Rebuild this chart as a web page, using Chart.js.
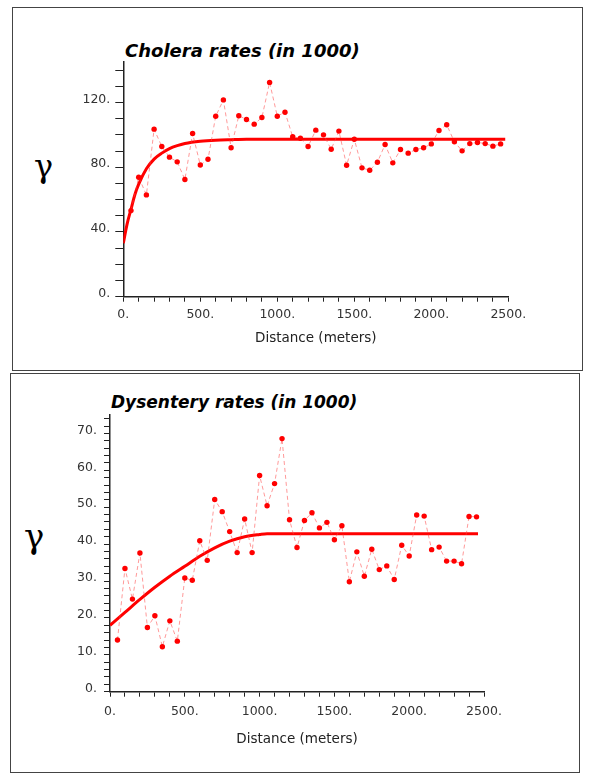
<!DOCTYPE html>
<html>
<head>
<meta charset="utf-8">
<script src="https://cdn.jsdelivr.net/npm/chart.js@4.4.1/dist/chart.umd.min.js"></script>
<style>
  html, body { margin: 0; padding: 0; background: #fff; }
  body { width: 600px; height: 776px; position: relative; overflow: hidden; }
  .panel { position: absolute; border: 1.5px solid #444; box-sizing: border-box; }
  .title { position: absolute; font-family: "DejaVu Sans"; font-weight: bold; font-style: italic; line-height: 1; white-space: nowrap; color: #000; }
  .gamma { position: absolute; font-family: "DejaVu Serif"; line-height: 1; color: #000; }
  canvas { position: absolute; left: 0; }
</style>
</head>
<body>
<div class="panel" style="left:12px;top:7px;width:571px;height:364px"></div>
<div class="panel" style="left:10px;top:373px;width:570px;height:400px"></div>

<div class="title" style="left:125px;top:42px;font-size:18px">Cholera rates (in 1000)</div>
<div class="title" style="left:111px;top:394px;font-size:17px">Dysentery rates (in 1000)</div>
<div class="gamma" style="left:34px;top:150px;font-size:32px">γ</div>
<div class="gamma" style="left:24px;top:519px;font-size:34px">γ</div>

<canvas id="cholera" width="600" height="370" style="top:0"></canvas>
<canvas id="dysentery" width="600" height="399" style="top:373px"></canvas>

<script>
// distances (lag centres, metres) - same for both variograms
const lags = [50, 100, 150, 200, 250, 300, 350, 400, 450, 500,
  550, 600, 650, 700, 750, 800, 850, 900, 950, 1000,
  1050, 1100, 1150, 1200, 1250, 1300, 1350, 1400, 1450, 1500,
  1550, 1600, 1650, 1700, 1750, 1800, 1850, 1900, 1950, 2000,
  2050, 2100, 2150, 2200, 2250, 2300, 2350, 2400, 2450];

// empirical semivariance, cholera
const choleraGamma = [53.2, 73.8, 62.9, 103.5, 92.8, 86.2, 83.3, 72.4, 100.8, 81.4,
  84.9, 111.5, 121.6, 92.0, 111.8, 109.5, 106.6, 110.7, 132.4, 111.5,
  114.0, 98.8, 97.9, 92.8, 102.9, 100.0, 91.1, 102.3, 81.2, 97.3,
  79.6, 78.1, 83.1, 94.0, 82.7, 90.9, 88.7, 90.9, 92.0, 94.4,
  102.7, 106.2, 95.7, 90.1, 94.6, 95.3, 94.6, 93.0, 94.4];

// fitted model, cholera
const choleraModelX = [0, 25, 50, 75, 100, 150, 200, 250, 300, 350, 400, 500, 600, 700, 800, 2480];
const choleraModelY = [33, 45, 54, 63, 69.5, 79, 85, 88.7, 91.5, 93.3, 94.6, 96, 96.7, 97, 97.2, 97.2];

// empirical semivariance, dysentery
const dysenteryGamma = [14.0, 33.4, 25.1, 37.6, 17.4, 20.6, 12.2, 19.2, 13.7, 30.8,
  30.2, 40.9, 35.6, 52.1, 48.8, 43.4, 37.7, 46.8, 37.7, 58.6,
  50.4, 56.4, 68.6, 46.6, 39.1, 46.4, 48.5, 44.4, 45.9, 41.2,
  45.0, 29.8, 37.9, 31.3, 38.6, 33.1, 34.1, 30.4, 39.7, 36.8,
  47.9, 47.6, 38.5, 39.2, 35.4, 35.4, 34.7, 47.5, 47.4];

// fitted model, dysentery
const dysenteryModelX = [0, 100, 200, 300, 400, 500, 600, 700, 800, 900, 1000, 1050, 2460];
const dysenteryModelY = [18, 21.5, 25, 28.3, 31.3, 34, 36.7, 39, 40.8, 42, 42.6, 42.8, 42.8];

const xTicks = { min: 0, max: 2500, step: 100, labelEvery: 500 };

function pts(xs, ys) {
  return xs.map((x, i) => ({ x: x, y: ys[i] }));
}

function drawVariogram(id, gamma, modelX, modelY, o) {
  new Chart(document.getElementById(id), {
    type: 'line',
    data: {
      datasets: [
        {
          data: pts(lags, gamma),
          borderColor: 'rgba(255, 70, 70, 0.55)',
          borderWidth: 1,
          borderDash: [4, 3],
          pointRadius: 2.7,
          pointBackgroundColor: '#ff0000',
          pointBorderWidth: 0,
          order: 0
        },
        {
          data: pts(modelX, modelY),
          borderColor: '#ff0000',
          borderWidth: 3,
          pointRadius: 0,
          cubicInterpolationMode: 'monotone',
          order: 1
        }
      ]
    },
    options: {
      responsive: false,
      animation: false,
      layout: { padding: { left: 0, right: o.padRight, top: o.padTop, bottom: 0 } },
      plugins: { legend: { display: false }, tooltip: { enabled: false } },
      scales: {
        x: {
          type: 'linear',
          min: xTicks.min,
          max: xTicks.max,
          afterFit: s => { s.height = o.xHeight; },
          border: { color: '#222', width: 1.5 },
          grid: { drawOnChartArea: false, drawTicks: true, tickLength: 5, tickColor: '#222' },
          ticks: {
            stepSize: xTicks.step,
            autoSkip: false,
            maxRotation: 0,
            padding: o.xPad,
            color: '#333',
            font: { family: 'DejaVu Sans', size: 12.5 },
            callback: v => (v % xTicks.labelEvery === 0 ? v + '.' : '')
          },
          title: {
            display: true,
            text: 'Distance (meters)',
            color: '#222',
            font: { family: 'DejaVu Sans', size: 13.5 },
            padding: { top: 0, bottom: o.titlePad }
          }
        },
        y: {
          min: 0,
          max: o.yMax,
          afterFit: s => { s.width = o.yWidth; },
          border: { color: '#222', width: 1.5 },
          grid: { drawOnChartArea: false, drawTicks: true, tickLength: o.yTickLen, tickColor: '#222' },
          ticks: {
            stepSize: o.yStep,
            includeBounds: false,
            autoSkip: false,
            padding: o.yPad,
            labelOffset: -3,
            color: '#333',
            font: { family: 'DejaVu Sans', size: 12.5 },
            callback: v => (v % o.yLabelEvery === 0 ? v + '.' : '')
          }
        }
      }
    }
  });
}

drawVariogram('cholera', choleraGamma, choleraModelX, choleraModelY, {
  yMax: 145, yStep: 10, yLabelEvery: 40,
  yWidth: 123.3, padRight: 91.7, padTop: 62, xHeight: 73.3,
  yTickLen: 8, yPad: 5, xPad: 6, titlePad: 23.6
});

drawVariogram('dysentery', dysenteryGamma, dysenteryModelX, dysenteryModelY, {
  yMax: 75, yStep: 2, yLabelEvery: 10,
  yWidth: 110, padRight: 116, padTop: 42, xHeight: 80.3,
  yTickLen: 6, yPad: 7, xPad: 8, titlePad: 24
});
</script>
</body>
</html>
